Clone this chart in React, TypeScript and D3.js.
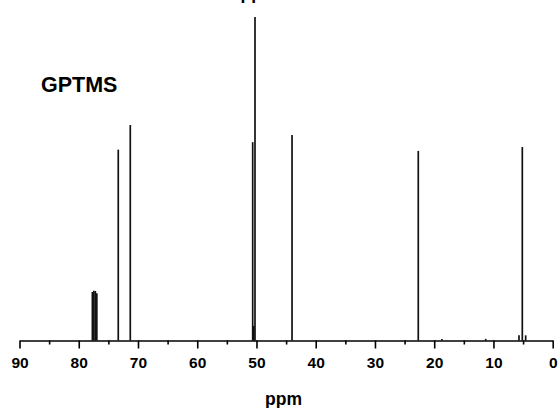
import React, { useRef, useEffect } from 'react';
import * as d3 from 'd3';

// chemical shifts (ppm) and peak intensities (tallest = 100)
const peakPpm = [77.7, 77.45, 77.2, 76.95, 73.33, 71.3, 50.64, 50.45, 50.25, 44.0, 22.69, 18.7, 11.3, 5.69, 5.13, 4.56];
const peakInt = [15.0, 15.4, 15.3, 14.6, 59.0, 66.6, 61.3, 4.5, 100, 63.5, 58.6, 0.5, 0.5, 1.6, 59.8, 1.6];
const majorTicks = [90, 80, 70, 60, 50, 40, 30, 20, 10, 0];
const minorTicks = [85, 75, 65, 55, 45, 35, 25, 15, 5];
const sampleName = 'GPTMS';
const axisTitle = 'ppm';

const W = 558, H = 408;
const FONT = '"Liberation Sans", Arial, sans-serif';

export default function App() {
  const svgRef = useRef<SVGSVGElement>(null);

  useEffect(() => {
    const svg = d3.select(svgRef.current);
    svg.selectAll('*').remove();

    const x = d3.scaleLinear().domain([90, 0]).range([19.5, 552.7]);
    const y = d3.scaleLinear().domain([0, 100]).range([340.5, 17]);
    const base = y(0);

    // title of the panel above, cut off by the frame
    svg.append('text')
      .attr('x', 259).attr('y', -1)
      .attr('text-anchor', 'middle')
      .attr('font-family', FONT).attr('font-weight', 'bold').attr('font-size', 17.5)
      .text(axisTitle);

    // spectrum lines
    svg.append('g')
      .selectAll('line')
      .data(peakPpm.map((p, i) => ({ p, v: peakInt[i] })))
      .enter().append('line')
      .attr('x1', d => x(d.p)).attr('x2', d => x(d.p))
      .attr('y1', base).attr('y2', d => y(d.v))
      .attr('stroke', '#111').attr('stroke-width', 1.7);

    // x axis: major + minor ticks
    const major = d3.axisBottom(x).tickValues(majorTicks).tickSize(8).tickSizeOuter(0)
      .tickFormat(d => String(d));
    const minor = d3.axisBottom(x).tickValues(minorTicks).tickSize(4).tickSizeOuter(0)
      .tickFormat(() => '');

    const gMajor = svg.append('g').attr('transform', `translate(0,${base})`).call(major);
    const gMinor = svg.append('g').attr('transform', `translate(0,${base})`).call(minor);
    gMinor.select('.domain').remove();
    [gMajor, gMinor].forEach(g => {
      g.selectAll('path, line').attr('stroke', '#000').attr('stroke-width', 1.6);
    });
    gMajor.selectAll('text')
      .attr('font-family', FONT).attr('font-weight', 'bold').attr('font-size', 15.5)
      .attr('fill', '#000').attr('dy', '1.05em');

    // axis title
    svg.append('text')
      .attr('x', 283.5).attr('y', 405)
      .attr('text-anchor', 'middle')
      .attr('font-family', FONT).attr('font-weight', 'bold').attr('font-size', 17.5)
      .text(axisTitle);

    // sample label
    svg.append('text')
      .attr('x', 41).attr('y', 92)
      .attr('font-family', FONT).attr('font-weight', 'bold').attr('font-size', 21.5)
      .text(sampleName);
  }, []);

  return (
    <div style={{ position: 'fixed', left: 0, top: 0, width: W, height: H, background: '#fff' }}>
      <svg ref={svgRef} width={W} height={H} style={{ display: 'block', overflow: 'hidden' }}></svg>
    </div>
  );
}
